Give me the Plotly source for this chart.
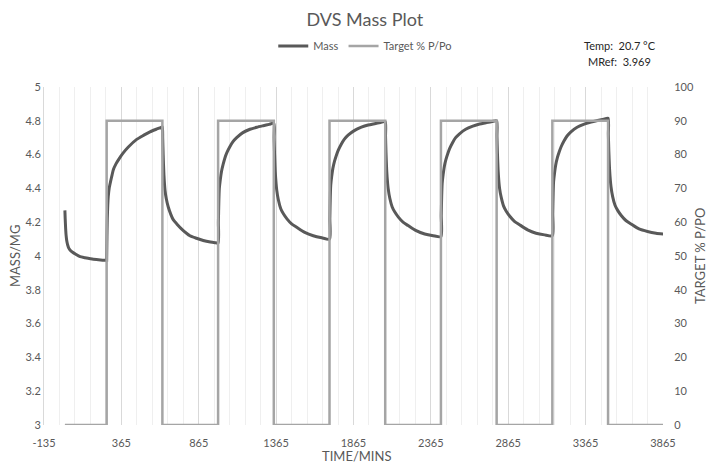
import plotly.graph_objects as go

# ---------------- data ----------------
mass_time = [
    0, 2, 5, 8, 12, 18, 26, 36, 50, 70, 98, 130, 184, 230, 270,
    270, 272, 274, 277, 280, 286, 295, 305, 313, 330, 350, 377, 410, 464, 510, 550, 590, 626, 630,
    632, 635, 640, 647, 655, 668, 685, 700, 723, 760, 808, 850, 894, 940, 970, 990,
    992, 995, 998, 1004, 1012, 1022, 1034, 1046, 1065, 1085, 1110, 1150, 1196, 1240, 1282, 1320, 1350,
    1352, 1355, 1360, 1369, 1380, 1395, 1412, 1435, 1465, 1498, 1550, 1605, 1660, 1710,
    1712, 1715, 1718, 1724, 1732, 1742, 1754, 1766, 1785, 1805, 1830, 1870, 1916, 1960, 2002, 2040, 2070,
    2072, 2075, 2080, 2089, 2100, 2115, 2132, 2155, 2185, 2218, 2270, 2325, 2380, 2430,
    2432, 2435, 2438, 2444, 2452, 2462, 2474, 2486, 2505, 2525, 2550, 2590, 2636, 2680, 2722, 2760, 2790,
    2792, 2795, 2800, 2809, 2820, 2835, 2852, 2875, 2905, 2938, 2990, 3045, 3100, 3150,
    3152, 3155, 3158, 3164, 3172, 3182, 3194, 3206, 3225, 3245, 3270, 3310, 3356, 3400, 3442, 3480, 3510,
    3512, 3515, 3520, 3529, 3540, 3555, 3572, 3595, 3625, 3658, 3710, 3765, 3820, 3870,
]
mass_value = [
    4.27, 4.22, 4.16, 4.12, 4.09, 4.065, 4.045, 4.033, 4.022, 4.010, 3.996, 3.990, 3.981, 3.977, 3.975,
    3.975, 4.12, 4.22, 4.30, 4.35, 4.40, 4.44, 4.48, 4.51, 4.545, 4.575, 4.61, 4.645, 4.69, 4.715, 4.735, 4.75, 4.763, 4.765,
    4.70, 4.60, 4.48, 4.39, 4.34, 4.29, 4.245, 4.215, 4.19, 4.155, 4.12, 4.105, 4.092, 4.083, 4.079, 4.077,
    4.20, 4.33, 4.40, 4.45, 4.50, 4.54, 4.58, 4.61, 4.645, 4.675, 4.70, 4.73, 4.75, 4.762, 4.771, 4.779, 4.785,
    4.70, 4.60, 4.49, 4.39, 4.33, 4.28, 4.25, 4.22, 4.19, 4.17, 4.14, 4.12, 4.108, 4.10,
    4.22, 4.35, 4.42, 4.47, 4.52, 4.56, 4.595, 4.625, 4.66, 4.69, 4.715, 4.742, 4.762, 4.775, 4.783, 4.79, 4.795,
    4.71, 4.61, 4.50, 4.40, 4.34, 4.29, 4.26, 4.23, 4.20, 4.18, 4.15, 4.13, 4.12, 4.115,
    4.24, 4.36, 4.43, 4.48, 4.53, 4.57, 4.605, 4.635, 4.67, 4.70, 4.723, 4.75, 4.768, 4.781, 4.789, 4.796, 4.80,
    4.71, 4.61, 4.50, 4.40, 4.345, 4.295, 4.265, 4.235, 4.205, 4.185, 4.155, 4.135, 4.125, 4.12,
    4.25, 4.37, 4.44, 4.49, 4.54, 4.58, 4.615, 4.645, 4.68, 4.71, 4.735, 4.762, 4.78, 4.793, 4.802, 4.809, 4.815,
    4.72, 4.62, 4.51, 4.41, 4.35, 4.30, 4.27, 4.24, 4.21, 4.19, 4.16, 4.145, 4.135, 4.13,
]

target_time = [0, 270, 270, 630, 630, 990, 990, 1350, 1350, 1710, 1710, 2070, 2070,
               2430, 2430, 2790, 2790, 3150, 3150, 3510, 3510, 3870]
target_value = [0, 0, 90, 90, 0, 0, 90, 90, 0, 0, 90, 90, 0,
                0, 90, 90, 0, 0, 90, 90, 0, 0]

x_tick_values = [-135, 365, 865, 1365, 1865, 2365, 2865, 3365, 3865]
x_tick_labels = ["-135", "365", "865", "1365", "1865", "2365", "2865", "3365", "3865"]

# ---------------- figure ----------------
FONT = "Lato, 'Open Sans', sans-serif"
GREY_TXT = "#595959"

fig = go.Figure()
fig.add_trace(go.Scatter(
    x=target_time, y=target_value, name="Target % P/Po", mode="lines",
    line=dict(color="#a5a5a5", width=2.5), yaxis="y2", legendrank=2,
))
fig.add_trace(go.Scatter(
    x=mass_time, y=mass_value, name="Mass", mode="lines",
    line=dict(color="#595959", width=3, shape="spline", smoothing=0.6), yaxis="y", legendrank=1,
))

fig.update_layout(
    width=707, height=466, autosize=False,
    margin=dict(l=44, r=44, t=87, b=41),
    paper_bgcolor="white", plot_bgcolor="white",
    font=dict(family=FONT, size=11, color=GREY_TXT),
    title=dict(text="DVS Mass Plot", x=0.516, xanchor="center",
               y=1 - 20 / 466, yanchor="middle", yref="container",
               font=dict(size=18, color=GREY_TXT, family=FONT)),
    showlegend=True,
    legend=dict(orientation="h", x=0.519, xanchor="center", y=1.121, yanchor="middle",
                font=dict(size=11, color=GREY_TXT), itemwidth=30,
                traceorder="normal", bgcolor="rgba(0,0,0,0)"),
    xaxis=dict(
        range=[-135, 3865], tickmode="array", tickvals=x_tick_values, ticktext=x_tick_labels,
        showgrid=True, gridcolor="#d9d9d9", gridwidth=1, zeroline=False,
        showline=False, ticks="outside", ticklen=8, tickcolor="rgba(0,0,0,0)",
        tickfont=dict(size=11, color=GREY_TXT),
        minor=dict(tick0=-135, dtick=100, showgrid=True, gridcolor="#efefef", gridwidth=1),
    ),
    yaxis=dict(
        range=[3, 5], dtick=0.2, tick0=3, showgrid=False, zeroline=False,
        showline=True, linecolor="#d9d9d9", linewidth=1,
        ticks="", tickfont=dict(size=11, color=GREY_TXT),
    ),
    yaxis2=dict(
        range=[0, 100], dtick=10, tick0=0, overlaying="y", side="right",
        showgrid=False, zeroline=False, showline=False,
        ticks="outside", ticklen=8, tickcolor="rgba(0,0,0,0)",
        tickfont=dict(size=11, color=GREY_TXT),
    ),
    annotations=[
        dict(text="Temp:  20.7 °C", xref="paper", yref="paper", x=0.930, y=1.124,
             xanchor="center", yanchor="middle", showarrow=False,
             font=dict(size=11, color="#262626")),
        dict(text="MRef:  3.969", xref="paper", yref="paper", x=0.930, y=1.074,
             xanchor="center", yanchor="middle", showarrow=False,
             font=dict(size=11, color="#262626")),
        dict(text="MASS/MG", xref="paper", yref="paper", x=-29 / 619, y=0.5,
             xanchor="center", yanchor="middle", textangle=-90, showarrow=False,
             font=dict(size=13, color=GREY_TXT)),
        dict(text="TARGET % P/PO", xref="paper", yref="paper", x=1 + 37 / 619, y=0.5,
             xanchor="center", yanchor="middle", textangle=-90, showarrow=False,
             font=dict(size=13, color=GREY_TXT)),
        dict(text="TIME/MINS", xref="paper", yref="paper", x=0.505, y=-31 / 338,
             xanchor="center", yanchor="middle", showarrow=False,
             font=dict(size=13, color=GREY_TXT)),
    ],
)

fig.write_html("out.html")
